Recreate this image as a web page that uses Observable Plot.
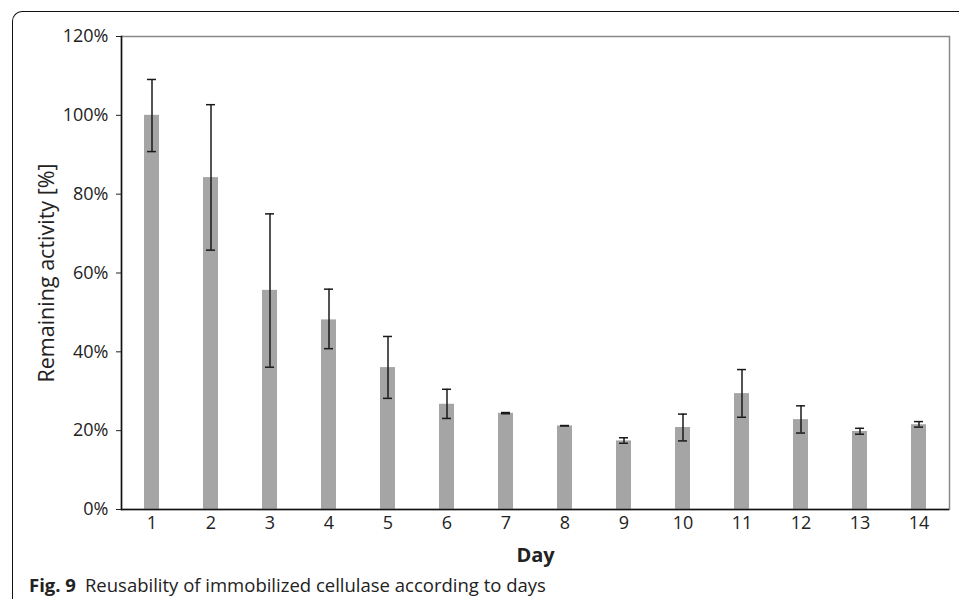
<!DOCTYPE html>
<html>
<head>
<meta charset="utf-8">
<script src="https://cdn.jsdelivr.net/npm/d3@7"></script>
<script src="https://cdn.jsdelivr.net/npm/@observablehq/plot@0.6"></script>
<style>
  html, body { margin: 0; padding: 0; background: #fff; overflow: hidden; width: 959px; height: 599px; }
  #border { position: absolute; left: 12px; top: 11px; width: 1100px; height: 800px;
    border-top: 1.5px solid #111; border-left: 1.5px solid #111; border-top-left-radius: 10px; }
  #chart { position: absolute; left: 0; top: 0; }
  #caption { position: absolute; left: 29px; top: 574px; font-family: "Open Sans", sans-serif;
    font-size: 18.5px; line-height: 22px; color: #222; white-space: nowrap; }
  #caption b { font-weight: 700; margin-right: 9px; }
  g[aria-label="x-axis label"] text { font-weight: 700; font-size: 20px; }
  g[aria-label="y-axis label"] text { font-size: 21.5px; }
</style>
</head>
<body>
<div id="border"></div>
<div id="chart"></div>
<div id="caption"><b>Fig. 9</b>Reusability of immobilized cellulase according to days</div>
<script>
const days = [1, 2, 3, 4, 5, 6, 7, 8, 9, 10, 11, 12, 13, 14];
const activity = [100, 84.2, 55.6, 48.1, 36.0, 26.7, 24.4, 21.2, 17.4, 20.8, 29.4, 22.8, 19.8, 21.5];
const errUpper = [109.1, 102.7, 75.0, 55.9, 43.9, 30.5, 24.6, 21.3, 18.2, 24.2, 35.5, 26.3, 20.6, 22.3];
const errLower = [90.8, 65.8, 36.1, 40.8, 28.2, 23.1, 24.3, 21.2, 16.8, 17.4, 23.4, 19.4, 19.1, 20.9];
const yTicks = [0, 20, 40, 60, 80, 100, 120];

const data = days.map((d, i) => ({day: d, value: activity[i], hi: errUpper[i], lo: errLower[i]}));

const plot = Plot.plot({
  width: 959,
  height: 570,
  marginLeft: 121,
  marginRight: 10,
  marginTop: 36,
  marginBottom: 61,
  style: {fontFamily: "Open Sans, sans-serif", fontSize: "18px", color: "#222", background: "none"},
  x: {type: "band", domain: days, paddingInner: 0.75, paddingOuter: 0.375},
  y: {domain: [0, 120]},
  marks: [
    Plot.frame({stroke: "#888", strokeWidth: 1.5}),
    Plot.barY(data, {x: "day", y: "value", fill: "#a5a5a5"}),
    Plot.ruleX(data, {x: "day", y1: "lo", y2: "hi", stroke: "#1a1a1a", strokeWidth: 1.5}),
    Plot.tickY(data, {x: "day", y: "hi", stroke: "#1a1a1a", strokeWidth: 1.5, insetLeft: 3, insetRight: 3}),
    Plot.tickY(data, {x: "day", y: "lo", stroke: "#1a1a1a", strokeWidth: 1.5, insetLeft: 3, insetRight: 3}),
    Plot.ruleY([0], {stroke: "#111", strokeWidth: 1.5}),
    Plot.frame({anchor: "left", stroke: "#111", strokeWidth: 1.5}),
    Plot.axisY({ticks: yTicks, tickFormat: d => d + "%", tickSize: 5, tickPadding: 8,
      label: "Remaining activity [%]", labelAnchor: "center", labelArrow: "none", labelOffset: 83, dy: 0}),
    Plot.axisX({tickSize: 0, tickPadding: 7, label: "Day", labelAnchor: "center", labelArrow: "none", labelOffset: 52})
  ]
});
document.getElementById("chart").appendChild(plot);
</script>
</body>
</html>
